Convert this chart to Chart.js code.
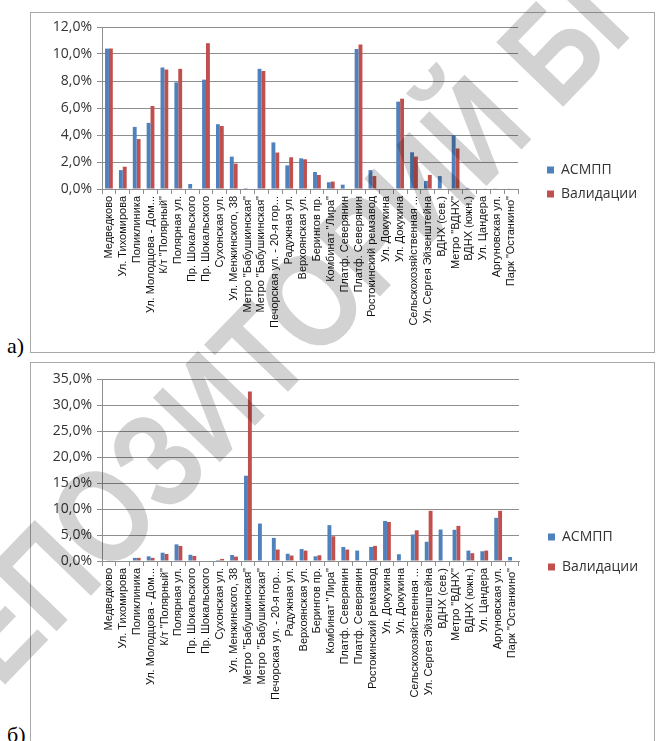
<!DOCTYPE html>
<html>
<head>
<meta charset="utf-8">
<script src="https://cdn.jsdelivr.net/npm/chart.js@4/dist/chart.umd.min.js"></script>
<style>
  html, body { margin: 0; padding: 0; background: #fff; width: 656px; height: 741px; overflow: hidden; }
  .frame { position: absolute; left: 30px; width: 623px; border: 1px solid #a8a8a8; background: #fff; }
  #frameA { top: 12px; height: 339px; }
  #frameB { top: 362px; height: 392px; }
  .frame canvas { position: absolute; left: 0; top: 0; }
  .tag { position: absolute; left: 7px; font-family: "Liberation Serif", serif; font-size: 22px; line-height: 22px; color: #000; }
  #stamp { position: absolute; left: 0; top: 0; pointer-events: none; mix-blend-mode: multiply; }
</style>
</head>
<body>
<div class="frame" id="frameA"><canvas id="chartA" width="623" height="339"></canvas></div>
<div class="tag" style="top:335px">а)</div>
<div class="frame" id="frameB"><canvas id="chartB" width="623" height="378"></canvas></div>
<div class="tag" style="top:724px">б)</div>
<canvas id="stamp" width="656" height="741"></canvas>

<script>
// Stops along the route
const categories = [
  'Медведково', 'Ул. Тихомирова', 'Поликлиника', 'Ул. Молодцова - Дом...', 'К/т "Полярный"',
  'Полярная ул.', 'Пр. Шокальского', 'Пр. Шокальского', 'Сухонская ул.', 'Ул. Менжинского, 38',
  'Метро "Бабушкинская"', 'Метро "Бабушкинская"', 'Печорская ул. - 20-я гор...', 'Радужная ул.', 'Верхоянская ул.',
  'Берингов пр.', 'Комбинат "Лира"', 'Платф. Северянин', 'Платф. Северянин', 'Ростокинский ремзавод',
  'Ул. Докукина', 'Ул. Докукина', 'Сельскохозяйственная ...', 'Ул. Сергея Эйзенштейна', 'ВДНХ (сев.)',
  'Метро "ВДНХ"', 'ВДНХ (южн.)', 'Ул. Цандера', 'Аргуновская ул.', 'Парк "Останкино"'
];

const seriesNames = ['АСМПП', 'Валидации'];

// а) share of passengers, %
const asmppA = [10.4, 1.4, 4.6, 4.9, 9.0, 7.9, 0.37, 8.1, 4.8, 2.4,
                0.07, 8.9, 3.45, 1.75, 2.27, 1.26, 0.5, 0.32, 10.37, 1.4,
                0, 6.47, 2.72, 0.6, 0.96, 4.0, 0.08, 0.04, 0.05, 0.03];
const validA = [10.4, 1.65, 3.7, 6.15, 8.85, 8.9, 0, 10.8, 4.67, 1.88,
                0, 8.74, 2.7, 2.35, 2.2, 1.04, 0.55, 0, 10.7, 0.96,
                0, 6.69, 2.4, 1.04, 0, 3.0, 0, 0.03, 0, 0];

// б) share of passengers, %
const asmppB = [0, 0, 0.6, 0.9, 1.6, 3.2, 1.2, 0, 0.2, 1.15,
                16.4, 7.2, 4.44, 1.4, 2.3, 0.9, 6.9, 2.7, 2.0, 2.7,
                7.7, 1.3, 5.1, 3.7, 6.05, 6.0, 2.0, 1.87, 8.3, 0.77];
const validB = [0, 0, 0.6, 0.6, 1.35, 2.9, 0.97, 0, 0.4, 0.84,
                32.6, 0, 2.2, 1.05, 2.0, 1.1, 4.76, 2.2, 0, 2.9,
                7.5, 0, 5.9, 9.65, 0, 6.75, 1.5, 2.0, 9.65, 0];

// Value axis ticks, %
const ticksA = [0, 2, 4, 6, 8, 10, 12];
const ticksB = [0, 5, 10, 15, 20, 25, 30, 35];

const BLUE = '#4F81BD';
const RED = '#C0504D';
const GRID = '#8e8e8e';

const pct = v => v.toFixed(1).replace('.', ',') + '%';

// Keeps the legend column at a fixed width so the plot area does not depend on text metrics
const fixedLegendWidth = {
  id: 'fixedLegendWidth',
  beforeLayout(chart, args, opts) {
    const lg = chart.legend;
    if (lg && !lg._fixedFit) {
      const orig = lg.fit.bind(lg);
      lg.fit = function () { orig(); this.width = opts.width; };
      lg._fixedFit = true;
    }
  }
};

function makeChart(id, blue, red, ticks, geo) {
  const step = ticks[1] - ticks[0];
  return new Chart(document.getElementById(id), {
    type: 'bar',
    data: {
      labels: categories,
      datasets: [
        { label: seriesNames[0], data: blue, backgroundColor: BLUE, yAxisID: 'y' },
        { label: seriesNames[1], data: red, backgroundColor: RED, yAxisID: 'y' }
      ]
    },
    plugins: [fixedLegendWidth],
    options: {
      responsive: false,
      animation: false,
      events: [],
      datasets: { bar: { categoryPercentage: 0.56, barPercentage: 1.0 } },
      layout: { padding: { left: 0, top: geo.top, right: geo.right, bottom: geo.bottom } },
      plugins: {
        tooltip: { enabled: false },
        fixedLegendWidth: { width: geo.legendWidth },
        legend: {
          position: 'right',
          align: 'center',
          labels: {
            boxWidth: 7, boxHeight: 7, padding: geo.legendPad,
            color: '#333',
            font: { family: '"Open Sans"', size: 14 }
          }
        }
      },
      scales: {
        x: {
          offset: true,
          grid: { display: true, drawOnChartArea: false, drawTicks: true, tickLength: 5, offset: true, color: GRID },
          border: { display: true, color: GRID },
          ticks: {
            autoSkip: false, minRotation: 90, maxRotation: 90, padding: 2,
            color: '#111',
            font: { family: '"Liberation Sans"', size: 11 }
          },
          afterFit: s => { s.height = geo.xHeight; }
        },
        y: {
          position: 'left',
          min: ticks[0], max: ticks[ticks.length - 1],
          afterBuildTicks: s => { s.ticks = ticks.map(v => ({ value: v })); },
          ticks: {
            stepSize: step, padding: 5, color: '#333',
            font: { family: '"Open Sans"', size: 14 },
            callback: v => pct(v)
          },
          grid: { color: GRID, tickLength: 5 },
          border: { color: GRID },
          afterFit: s => { s.width = 71; }
        },
        gap: {
          axis: 'y', type: 'linear', position: 'right', display: true,
          grid: { display: false }, ticks: { display: false }, border: { display: false },
          afterFit: s => { s.width = geo.gap; }
        }
      }
    }
  });
}

function drawStamp() {
  // Repository stamp across the page
  const st = document.getElementById('stamp').getContext('2d');
  st.fillStyle = '#d2d2d2';
  st.font = 'bold 135px "Liberation Sans"';
  st.translate(558, 112);
  st.rotate(-46 * Math.PI / 180);
  st.scale(0.82, 1);
  st.textBaseline = 'alphabetic';
  st.textAlign = 'left';
  st.fillText('БГУ', 0, 0);
  st.textAlign = 'right';
  st.fillText('РЕПОЗИТОРИЙ ', 0, 0);
}

function drawAll() {
  makeChart('chartA', asmppA, validA, ticksA,
    { top: 14, bottom: 15, right: 1, xHeight: 148, legendPad: 10, legendWidth: 116, gap: 19 });
  makeChart('chartB', asmppB, validB, ticksB,
    { top: 16, bottom: 16, right: 2, xHeight: 164, legendPad: 16, legendWidth: 120, gap: 13 });
  drawStamp();
}

const fontsReady = Promise.all([
  document.fonts.load('14px "Open Sans"', 'АСМПП Валидации 12,0%'),
  document.fonts.load('11px "Liberation Sans"', 'Медведково'),
  document.fonts.load('bold 135px "Liberation Sans"', 'РЕПОЗИТОРИЙ БГУ')
]);
let done = false;
const go = () => { if (!done) { done = true; drawAll(); } };
fontsReady.then(go, go);
setTimeout(go, 1500);
</script>
</body>
</html>
